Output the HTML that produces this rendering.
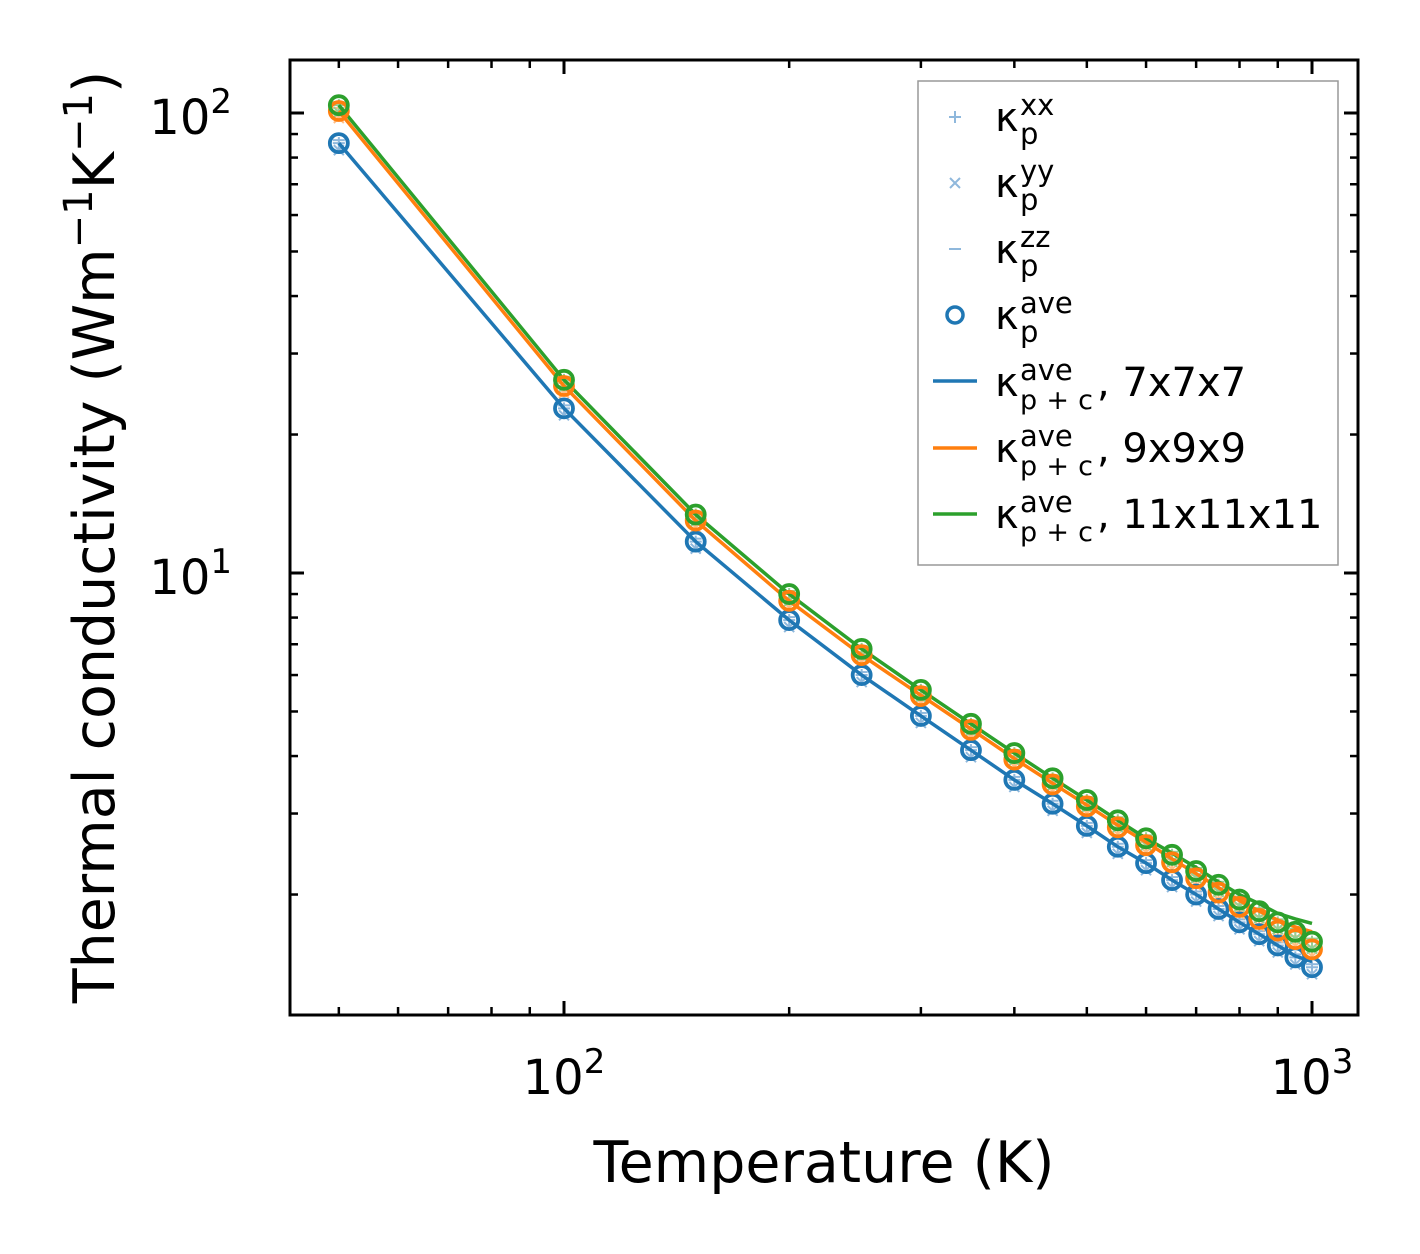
<!DOCTYPE html>
<html><head><meta charset="utf-8"><style>
body{margin:0;background:#fff;}
svg{display:block;font-family:"DejaVu Sans","Liberation Sans",sans-serif;}
</style></head><body>
<svg id="chart" width="1420" height="1254" viewBox="0 0 1420 1254" xmlns="http://www.w3.org/2000/svg">
<rect x="0" y="0" width="1420" height="1254" fill="#fff"/>
<g id="marks"></g>
<g id="ticks"></g>
<rect x="290" y="60" width="1068" height="955" fill="none" stroke="#000" stroke-width="3"/>
<text x="232" y="134" font-size="48" text-anchor="end">10<tspan dy="-21" font-size="34">2</tspan></text>
<text x="232" y="594" font-size="48" text-anchor="end">10<tspan dy="-21" font-size="34">1</tspan></text>
<text x="564" y="1094" font-size="48" text-anchor="middle">10<tspan dy="-21" font-size="34">2</tspan></text>
<text x="1312" y="1094" font-size="48" text-anchor="middle">10<tspan dy="-21" font-size="34">3</tspan></text>
<text x="824" y="1182" font-size="57" text-anchor="middle">Temperature (K)</text>
<text transform="translate(114,537) rotate(-90)" font-size="57" text-anchor="middle">Thermal conductivity (Wm<tspan dy="-22" font-size="40">−1</tspan><tspan dy="22">K</tspan><tspan dy="-22" font-size="40">−1</tspan><tspan dy="22">)</tspan></text>
<g>
<rect x="918" y="81" width="420" height="484" fill="#fff" stroke="#999" stroke-width="1.5"/>
<g stroke="#8fb8dc" stroke-width="2" fill="none">
<path d="M949 117h12M955 111v12"/>
<path d="M950 178l10 10M960 178l-10 10"/>
<path d="M949 249h12"/>
</g>
<circle cx="955" cy="315" r="8" fill="none" stroke="#1f77b4" stroke-width="3.5"/>
<line x1="933" y1="381" x2="977" y2="381" stroke="#1f77b4" stroke-width="3.5"/>
<line x1="933" y1="448" x2="977" y2="448" stroke="#ff7f0e" stroke-width="3.5"/>
<line x1="933" y1="514" x2="977" y2="514" stroke="#2ca02c" stroke-width="3.5"/>
<g font-size="40">
<g><text x="995" y="131">κ</text><text x="1020" y="115" font-size="29">xx</text><text x="1020" y="144" font-size="29">p</text></g>
<g><text x="995" y="197">κ</text><text x="1020" y="181" font-size="29">yy</text><text x="1020" y="210" font-size="29">p</text></g>
<g><text x="995" y="263">κ</text><text x="1020" y="247" font-size="29">zz</text><text x="1020" y="276" font-size="29">p</text></g>
<g><text x="995" y="329">κ</text><text x="1020" y="313" font-size="29">ave</text><text x="1020" y="342" font-size="29">p</text></g>
<g><text x="995" y="396">κ</text><text x="1020" y="380" font-size="29">ave</text><text x="1020" y="409" font-size="27" textLength="73">p + c</text><text x="1097" y="396">, 7x7x7</text></g>
<g><text x="995" y="462">κ</text><text x="1020" y="446" font-size="29">ave</text><text x="1020" y="475" font-size="27" textLength="73">p + c</text><text x="1097" y="462">, 9x9x9</text></g>
<g><text x="995" y="528">κ</text><text x="1020" y="512" font-size="29">ave</text><text x="1020" y="541" font-size="27" textLength="73">p + c</text><text x="1097" y="528">, 11x11x11</text></g>
</g>
</g>
</svg>
<script>
const temps=[50,100,150,200,250,300,350,400,450,500,550,600,650,700,750,800,850,900,950,1000];
const blueCircles=[86,22.8,11.7,7.9,6.0,4.89,4.12,3.55,3.15,2.82,2.54,2.34,2.15,2.0,1.86,1.74,1.64,1.55,1.46,1.39];
const blueLine=[86,22.8,11.7,7.9,6.0,4.89,4.12,3.55,3.15,2.82,2.54,2.34,2.15,2.0,1.86,1.74,1.64,1.55,1.47,1.43];
const orangeCircles=[101,25.5,13.0,8.7,6.63,5.40,4.56,3.93,3.47,3.11,2.80,2.56,2.35,2.17,2.02,1.88,1.77,1.67,1.6,1.52];
const orangeLine=[101,25.5,13.0,8.7,6.63,5.42,4.58,3.95,3.49,3.13,2.83,2.6,2.39,2.22,2.07,1.94,1.84,1.76,1.70,1.66];
const greenCircles=[104,26.3,13.4,9.0,6.84,5.57,4.7,4.06,3.58,3.21,2.9,2.65,2.44,2.25,2.1,1.95,1.84,1.74,1.66,1.58];
const greenLine=[104,26.3,13.4,9.0,6.84,5.57,4.7,4.06,3.58,3.21,2.9,2.65,2.46,2.29,2.13,2.0,1.91,1.82,1.77,1.73];
const xMajor=[100,1000];
const yMajor=[10,100];
const NS="http://www.w3.org/2000/svg";
function X(t){return 564+748*(Math.log10(t)-2);}
function Y(v){return 573-460*(Math.log10(v)-1);}
const marks=document.getElementById('marks');
const ticks=document.getElementById('ticks');
function mk(tag,attrs,parent){const e=document.createElementNS(NS,tag);for(const k in attrs)e.setAttribute(k,attrs[k]);parent.appendChild(e);return e;}
const series=[
 {name:'7x7x7',c:'#1f77b4',light:'#8fb8dc',pts:blueCircles,line:blueLine},
 {name:'9x9x9',c:'#ff7f0e',light:'#ffbf86',pts:orangeCircles,line:orangeLine},
 {name:'11x11x11',c:'#2ca02c',light:'#95cf95',pts:greenCircles,line:greenLine}];
series.forEach(s=>{
  temps.forEach((t,i)=>{
    const x=X(t),y=Y(s.pts[i]);
    const g=mk('g',{stroke:s.light,'stroke-width':2,fill:'none'},marks);
    
    
    mk('path',{d:`M${x-6} ${y}h12M${x} ${y-6}v12`},g);
    mk('path',{d:`M${x-5} ${y+2}l10 10M${x+5} ${y+2}l-10 10`},g);
    mk('path',{d:`M${x-6} ${y-3}h12`},g);
  });
});
series.forEach(s=>{
  const p=mk('polyline',{points:temps.map((t,i)=>X(t)+','+Y(s.line[i])).join(' '),fill:'none',stroke:s.c,'stroke-width':3.5},marks);
  
  
});
series.forEach(s=>{
  temps.forEach((t,i)=>{
    const c=mk('circle',{cx:X(t),cy:Y(s.pts[i]),r:9,fill:'none',stroke:s.c,'stroke-width':3.8},marks);
    
    
  });
});
const xt=[];for(let d=10;d<=1000;d*=10)for(let k=1;k<10;k++)xt.push(d*k);
xt.forEach(t=>{const x=X(t);if(x<291||x>1357)return;const maj=xMajor.includes(t);const L=maj?14:8;
  const a=mk('line',{x1:x,x2:x,y1:1015,y2:1015-L,stroke:'#000','stroke-width':maj?3:2.5},ticks);
  
  const b=mk('line',{x1:x,x2:x,y1:60,y2:60+L,stroke:'#000','stroke-width':maj?3:2.5},ticks);
  });
const yt=[];for(let d=1;d<=100;d*=10)for(let k=1;k<10;k++)yt.push(d*k);
yt.forEach(v=>{const y=Y(v);if(y<61||y>1014)return;const maj=yMajor.includes(v);const L=maj?14:8;
  const a=mk('line',{x1:290,x2:290+L,y1:y,y2:y,stroke:'#000','stroke-width':maj?3:2.5},ticks);
  
  const b=mk('line',{x1:1358,x2:1358-L,y1:y,y2:y,stroke:'#000','stroke-width':maj?3:2.5},ticks);
  });
</script>
</body></html>
